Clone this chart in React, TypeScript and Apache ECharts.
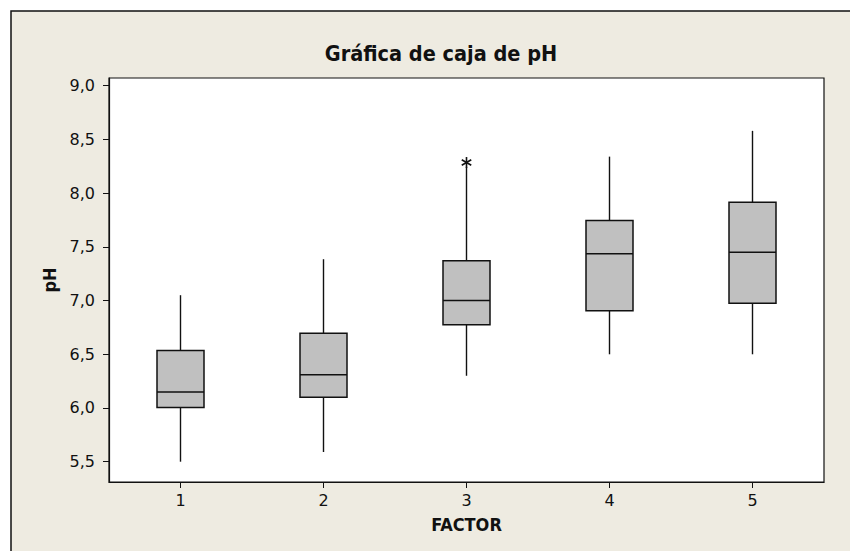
import React, { useEffect, useRef } from 'react';
import * as echarts from 'echarts';

const categories = ['1', '2', '3', '4', '5'];
const whiskerLow = [5.5, 5.59, 6.3, 6.5, 6.5];
const q1 = [6.005, 6.1, 6.775, 6.905, 6.975];
const median = [6.15, 6.31, 7.0, 7.435, 7.45];
const q3 = [6.535, 6.695, 7.37, 7.745, 7.915];
const whiskerHigh = [7.05, 7.385, 8.245, 8.34, 8.58];
const outlierCategory = ['3'];
const outlierValue = [8.285];
const yTicks = [5.5, 6.0, 6.5, 7.0, 7.5, 8.0, 8.5, 9.0];

const INK = '#111111';
const BEIGE = '#eeebe1';

export default function App() {
  const ref = useRef<HTMLDivElement>(null);

  useEffect(() => {
    if (!ref.current) return;
    const chart = echarts.init(ref.current, undefined, { renderer: 'svg' });
    const boxData = categories.map((c, i) => [c, whiskerLow[i], q1[i], median[i], q3[i], whiskerHigh[i]]);
    const outData = outlierCategory.map((c, i) => [c, outlierValue[i]]);

    chart.setOption({
      animation: false,
      backgroundColor: '#ffffff',
      graphic: [
        {
          type: 'rect',
          z: -10,
          silent: true,
          shape: { x: 11, y: 11, width: 900, height: 600 },
          style: { fill: BEIGE, stroke: INK, lineWidth: 1.5 },
        },
      ],
      title: {
        text: 'Gráfica de caja de pH',
        left: 436,
        top: 37,
        textAlign: 'center',
        textStyle: {
          fontFamily: '"DejaVu Sans Condensed", "DejaVu Sans", sans-serif',
          fontWeight: 'bold',
          fontSize: 21.5,
          color: INK,
        },
      },
      grid: {
        left: 109,
        top: 78,
        width: 715,
        height: 404,
        show: true,
        backgroundColor: '#ffffff',
        borderColor: INK,
        borderWidth: 1.2,
      },
      xAxis: {
        type: 'category',
        data: categories,
        boundaryGap: true,
        name: 'FACTOR',
        nameLocation: 'middle',
        nameGap: 33,
        nameTextStyle: {
          fontFamily: '"DejaVu Sans Condensed", "DejaVu Sans", sans-serif',
          fontWeight: 'bold',
          fontSize: 18,
          color: INK,
        },
        axisLine: { show: true, lineStyle: { color: INK, width: 1.2 } },
        axisTick: { show: true, alignWithLabel: true, length: 6, lineStyle: { color: INK } },
        axisLabel: {
          margin: 10,
          fontFamily: '"DejaVu Sans", sans-serif',
          fontSize: 16,
          color: INK,
        },
        splitLine: { show: false },
      },
      yAxis: {
        type: 'value',
        min: 5.311,
        max: 9.072,
        name: 'pH',
        nameLocation: 'middle',
        nameGap: 50,
        nameRotate: 90,
        nameTextStyle: {
          fontFamily: '"DejaVu Sans Condensed", "DejaVu Sans", sans-serif',
          fontWeight: 'bold',
          fontSize: 18,
          color: INK,
        },
        axisLine: { show: true, lineStyle: { color: INK, width: 1.2 } },
        axisTick: { show: true, length: 6, customValues: yTicks, lineStyle: { color: INK } },
        axisLabel: {
          margin: 14,
          customValues: yTicks,
          fontFamily: '"DejaVu Sans", sans-serif',
          fontSize: 16,
          color: INK,
          formatter: (v: number) => v.toFixed(1).replace('.', ','),
        },
        splitLine: { show: false },
      },
      series: [
        {
          type: 'custom',
          name: 'pH',
          data: boxData,
          encode: { x: 0, y: [1, 2, 3, 4, 5] },
          renderItem: (params: any, api: any) => {
            const x = api.value(0);
            const lo = api.coord([x, api.value(1)]);
            const b1 = api.coord([x, api.value(2)]);
            const md = api.coord([x, api.value(3)]);
            const b3 = api.coord([x, api.value(4)]);
            const hi = api.coord([x, api.value(5)]);
            const half = 23.5;
            const cx = lo[0];
            const ls = { stroke: INK, lineWidth: 1.4 };
            return {
              type: 'group',
              children: [
                { type: 'line', shape: { x1: cx, y1: hi[1], x2: cx, y2: b3[1] }, style: ls },
                { type: 'line', shape: { x1: cx, y1: b1[1], x2: cx, y2: lo[1] }, style: ls },
                {
                  type: 'rect',
                  shape: { x: cx - half, y: b3[1], width: half * 2, height: b1[1] - b3[1] },
                  style: { fill: '#c0c0c0', stroke: INK, lineWidth: 1.5 },
                },
                { type: 'line', shape: { x1: cx - half, y1: md[1], x2: cx + half, y2: md[1] }, style: { stroke: INK, lineWidth: 1.5 } },
              ],
            };
          },
        },
        {
          type: 'custom',
          name: 'outliers',
          data: outData,
          encode: { x: 0, y: 1 },
          renderItem: (params: any, api: any) => {
            const p = api.coord([api.value(0), api.value(1)]);
            const r = 5.5;
            const ls = { stroke: INK, lineWidth: 1.6 };
            const dx = r * Math.cos(Math.PI / 6);
            const dy = r * Math.sin(Math.PI / 6);
            return {
              type: 'group',
              children: [
                { type: 'line', shape: { x1: p[0], y1: p[1] - r, x2: p[0], y2: p[1] + r }, style: ls },
                { type: 'line', shape: { x1: p[0] - dx, y1: p[1] - dy, x2: p[0] + dx, y2: p[1] + dy }, style: ls },
                { type: 'line', shape: { x1: p[0] - dx, y1: p[1] + dy, x2: p[0] + dx, y2: p[1] - dy }, style: ls },
              ],
            };
          },
        },
      ],
    });
    return () => chart.dispose();
  }, []);

  return (
    <div
      ref={ref}
      style={{ position: 'absolute', left: 0, top: 0, width: 850, height: 551 }}
    />
  );
}
